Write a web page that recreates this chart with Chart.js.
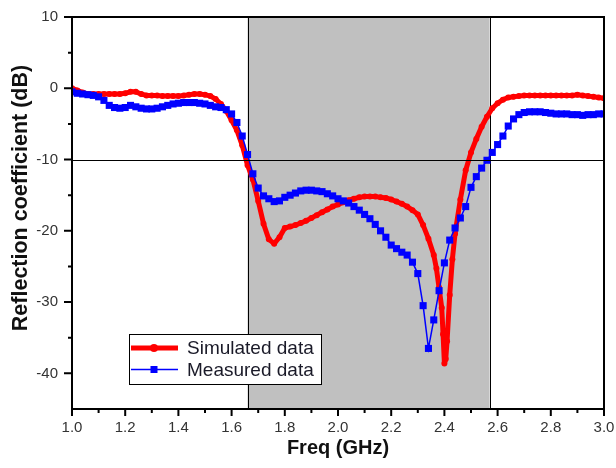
<!DOCTYPE html>
<html>
<head>
<meta charset="utf-8">
<title>Reflection coefficient</title>
<script src="https://cdn.jsdelivr.net/npm/chart.js@4.4.1/dist/chart.umd.min.js"></script>
<style>
  html, body { margin: 0; padding: 0; background: #fff; }
  #chart { display: block; }
</style>
</head>
<body>
<canvas id="chart" width="616" height="468"></canvas>
<script>
// Simulated S11 (dB), denser around the resonance at 2.40 GHz
const freqSim = [
  1.00, 1.02, 1.04, 1.06, 1.08, 1.10, 1.12, 1.14, 1.16, 1.18,
  1.20, 1.22, 1.24, 1.26, 1.28, 1.30, 1.32, 1.34, 1.36, 1.38,
  1.40, 1.42, 1.44, 1.46, 1.48, 1.50, 1.52, 1.54, 1.56, 1.58,
  1.60, 1.62, 1.64, 1.66, 1.68, 1.70, 1.72, 1.74, 1.76, 1.78,
  1.80, 1.82, 1.84, 1.86, 1.88, 1.90, 1.92, 1.94, 1.96, 1.98,
  2.00, 2.02, 2.04, 2.06, 2.08, 2.10, 2.12, 2.14, 2.16, 2.18,
  2.20, 2.22, 2.24, 2.26, 2.28, 2.30, 2.32, 2.34, 2.36, 2.37,
  2.38, 2.39, 2.395, 2.40, 2.405, 2.41, 2.42, 2.43, 2.44, 2.46,
  2.48, 2.50, 2.52, 2.54, 2.56, 2.58, 2.60, 2.62, 2.64, 2.66,
  2.68, 2.70, 2.72, 2.74, 2.76, 2.78, 2.80, 2.82, 2.84, 2.86,
  2.88, 2.90, 2.92, 2.94, 2.96, 2.98, 3.00
];
const simulated = [
  0.0, -0.3, -0.6, -0.8, -0.8, -0.8, -0.8, -0.8, -0.8, -0.8,
  -0.7, -0.5, -0.5, -0.8, -1.0, -1.0, -1.0, -1.1, -1.1, -1.1,
  -1.1, -1.0, -0.9, -0.8, -0.8, -0.9, -1.1, -1.5, -2.2, -3.2,
  -4.5, -5.9, -8.0, -10.8, -12.8, -15.8, -19.0, -21.2, -21.8, -20.9,
  -19.6, -19.4, -19.2, -18.9, -18.6, -18.2, -17.8, -17.4, -17.0, -16.6,
  -16.3, -16.0, -15.7, -15.5, -15.3, -15.2, -15.2, -15.2, -15.3, -15.4,
  -15.6, -15.9, -16.2, -16.6, -17.1, -17.7, -19.2, -21.1, -23.4, -25.3,
  -28.0, -30.8, -34.5, -38.6, -38.0, -35.5, -29.0, -24.0, -20.4, -15.6,
  -11.5, -9.0, -7.1, -5.4, -4.0, -2.8, -2.1, -1.6, -1.3, -1.2,
  -1.1, -1.0, -1.0, -1.0, -1.0, -1.0, -1.0, -1.0, -1.0, -1.0,
  -1.0, -0.9, -1.0, -1.1, -1.2, -1.3, -1.4
];

// Measured S11 (dB)
const freqMeas = [
  1.00, 1.02, 1.04, 1.06, 1.08, 1.10, 1.12, 1.14, 1.16, 1.18,
  1.20, 1.22, 1.24, 1.26, 1.28, 1.30, 1.32, 1.34, 1.36, 1.38,
  1.40, 1.42, 1.44, 1.46, 1.48, 1.50, 1.52, 1.54, 1.56, 1.58,
  1.60, 1.62, 1.64, 1.66, 1.68, 1.70, 1.72, 1.74, 1.76, 1.78,
  1.80, 1.82, 1.84, 1.86, 1.88, 1.90, 1.92, 1.94, 1.96, 1.98,
  2.00, 2.02, 2.04, 2.06, 2.08, 2.10, 2.12, 2.14, 2.16, 2.18,
  2.20, 2.22, 2.24, 2.26, 2.28, 2.30, 2.32, 2.34, 2.36, 2.38,
  2.40, 2.42, 2.44, 2.46, 2.48, 2.50, 2.52, 2.54, 2.56, 2.58,
  2.60, 2.62, 2.64, 2.66, 2.68, 2.70, 2.72, 2.74, 2.76, 2.78,
  2.80, 2.82, 2.84, 2.86, 2.88, 2.90, 2.92, 2.94, 2.96, 2.98,
  3.00
];
const measured = [
  -0.5, -0.7, -0.8, -0.9, -1.0, -1.2, -1.7, -2.4, -2.7, -2.8,
  -2.7, -2.4, -2.6, -2.8, -2.9, -2.9, -2.8, -2.6, -2.4, -2.2,
  -2.1, -2.0, -2.0, -2.0, -2.1, -2.2, -2.4, -2.6, -2.7, -3.0,
  -3.6, -4.8, -6.7, -9.3, -12.0, -14.0, -15.1, -15.5, -15.9, -15.8,
  -15.3, -15.0, -14.7, -14.4, -14.3, -14.3, -14.4, -14.5, -14.8, -15.1,
  -15.5, -15.8, -16.1, -16.6, -17.1, -17.7, -18.3, -19.1, -20.0, -20.9,
  -22.0, -22.5, -23.0, -23.4, -24.4, -26.0, -30.5, -36.5, -32.5, -28.4,
  -24.5, -21.3, -19.6, -18.2, -16.6, -13.9, -12.4, -11.2, -10.1, -9.0,
  -7.9, -6.7, -5.3, -4.3, -3.7, -3.4, -3.3, -3.3, -3.3, -3.4,
  -3.5, -3.6, -3.6, -3.6, -3.7, -3.7, -3.8, -3.7, -3.7, -3.6,
  -3.6
];

const xTicks = [1.0, 1.2, 1.4, 1.6, 1.8, 2.0, 2.2, 2.4, 2.6, 2.8, 3.0];
const xMinorTicks = [1.1, 1.3, 1.5, 1.7, 1.9, 2.1, 2.3, 2.5, 2.7, 2.9];
const yTicks = [-40, -30, -20, -10, 0, 10];
const yMinorTicks = [-35, -25, -15, -5, 5];
const yTitle = 'Reflection coefficient (dB)';

// shaded operating band and -10 dB reference
const bandStart = 1.66;
const bandEnd = 2.57;
const refLevel = -10;

const FONT = '"Liberation Sans", Arial, sans-serif';

function toPoints(xs, ys) {
    return xs.map((x, i) => ({ x: x, y: ys[i] }));
}

const bandPlugin = {
    id: 'band',
    beforeDatasetsDraw(chart) {
        const { ctx, chartArea: a, scales: { x } } = chart;
        const x0 = x.getPixelForValue(bandStart);
        const x1 = x.getPixelForValue(bandEnd);
        ctx.save();
        ctx.fillStyle = '#c0c0c0';
        ctx.fillRect(x0, a.top, x1 - x0, a.bottom - a.top);
        ctx.strokeStyle = '#000';
        ctx.lineWidth = 1;
        ctx.beginPath();
        ctx.moveTo(Math.round(x0) + 0.5, a.top);
        ctx.lineTo(Math.round(x0) + 0.5, a.bottom);
        ctx.moveTo(Math.round(x1) + 0.5, a.top);
        ctx.lineTo(Math.round(x1) + 0.5, a.bottom);
        ctx.stroke();
        ctx.restore();
    }
};

const framePlugin = {
    id: 'frame',
    afterDatasetsDraw(chart) {
        const { ctx, chartArea: a, scales: { x, y } } = chart;
        ctx.save();
        // -10 dB line
        const yr = Math.round(y.getPixelForValue(refLevel)) + 0.5;
        ctx.strokeStyle = '#000';
        ctx.lineWidth = 1;
        ctx.beginPath();
        ctx.moveTo(a.left, yr);
        ctx.lineTo(a.right, yr);
        ctx.stroke();

        // box
        ctx.lineWidth = 2;
        ctx.strokeRect(a.left, a.top, a.right - a.left, a.bottom - a.top);

        // ticks, pointing outward
        ctx.beginPath();
        xTicks.forEach(v => {
            const px = x.getPixelForValue(v);
            ctx.moveTo(px, a.bottom);
            ctx.lineTo(px, a.bottom + 7);
        });
        xMinorTicks.forEach(v => {
            const px = x.getPixelForValue(v);
            ctx.moveTo(px, a.bottom);
            ctx.lineTo(px, a.bottom + 4);
        });
        yTicks.forEach(v => {
            const py = y.getPixelForValue(v);
            ctx.moveTo(a.left, py);
            ctx.lineTo(a.left - 8, py);
        });
        yMinorTicks.forEach(v => {
            const py = y.getPixelForValue(v);
            ctx.moveTo(a.left, py);
            ctx.lineTo(a.left - 4, py);
        });
        ctx.stroke();

        // y title, sits a bit above the middle of the axis
        ctx.translate(21, (a.top + a.bottom) / 2 - 15);
        ctx.rotate(-Math.PI / 2);
        ctx.fillStyle = '#111';
        ctx.font = 'bold 21.5px ' + FONT;
        ctx.textAlign = 'center';
        ctx.textBaseline = 'middle';
        ctx.fillText(yTitle, 0, 0);
        ctx.restore();
    }
};

const legendPlugin = {
    id: 'boxLegend',
    afterDraw(chart) {
        const { ctx, chartArea: a } = chart;
        const left = a.left + 57;
        const top = a.bottom - 75;
        const w = 192, h = 50;
        ctx.save();
        ctx.fillStyle = '#fff';
        ctx.fillRect(left, top, w, h);
        ctx.strokeStyle = '#000';
        ctx.lineWidth = 1;
        ctx.strokeRect(left + 0.5, top + 0.5, w, h);

        chart.data.datasets.forEach((ds, i) => {
            const cy = top + 14 + i * 21.5;
            const x0 = left + 2, x1 = left + 49, xm = left + 25;
            ctx.strokeStyle = ds.borderColor;
            ctx.fillStyle = ds.borderColor;
            ctx.lineWidth = ds.borderWidth;
            ctx.beginPath();
            ctx.moveTo(x0, cy);
            ctx.lineTo(x1, cy);
            ctx.stroke();
            if (ds.pointStyle === 'rect') {
                ctx.fillRect(xm - 3.5, cy - 3.5, 7, 7);
            } else {
                ctx.beginPath();
                ctx.arc(xm, cy, 4, 0, Math.PI * 2);
                ctx.fill();
            }
            ctx.fillStyle = '#1a1a28';
            ctx.font = '19px ' + FONT;
            ctx.textBaseline = 'middle';
            ctx.textAlign = 'left';
            ctx.fillText(ds.label, left + 58, cy + 1);
        });
        ctx.restore();
    }
};

const tickFont = { family: FONT, size: 15 };
const titleFont = { family: FONT, size: 20, weight: 'bold' };

const ctx = document.getElementById('chart').getContext('2d');
new Chart(ctx, {
    type: 'line',
    data: {
        datasets: [{
            label: 'Simulated data',
            data: toPoints(freqSim, simulated),
            borderColor: '#ff0000',
            backgroundColor: '#ff0000',
            borderWidth: 5,
            borderJoinStyle: 'round',
            borderCapStyle: 'round',
            pointStyle: 'circle',
            pointRadius: 3,
            pointBorderWidth: 0,
            order: 2
        }, {
            label: 'Measured data',
            data: toPoints(freqMeas, measured),
            borderColor: '#0000ff',
            backgroundColor: '#0000ff',
            borderWidth: 1.5,
            pointStyle: 'rect',
            pointRadius: 5,
            pointBorderWidth: 0,
            order: 1
        }]
    },
    options: {
        responsive: false,
        animation: false,
        layout: { padding: { top: 17, right: 12, left: 0, bottom: 0 } },
        elements: { line: { tension: 0 } },
        plugins: {
            legend: { display: false },
            tooltip: { enabled: false }
        },
        scales: {
            x: {
                type: 'linear',
                min: 1,
                max: 3,
                afterBuildTicks: s => { s.ticks = xTicks.map(v => ({ value: v })); },
                afterFit: s => {
                    s.height = 59;
                    s.paddingLeft = 0;
                    s.paddingRight = 0;
                },
                grid: { display: false, drawTicks: false },
                border: { display: false },
                ticks: {
                    padding: 10,
                    color: '#333',
                    font: tickFont,
                    maxRotation: 0,
                    callback: v => Number(v).toFixed(1)
                },
                title: {
                    display: true,
                    text: 'Freq (GHz)',
                    color: '#111',
                    font: titleFont,
                    padding: { top: 0, bottom: 8 }
                }
            },
            y: {
                type: 'linear',
                min: -45,
                max: 10,
                afterBuildTicks: s => { s.ticks = yTicks.map(v => ({ value: v })); },
                afterFit: s => {
                    s.width = 72;
                    s.paddingTop = 0;
                    s.paddingBottom = 0;
                },
                grid: { display: false, drawTicks: false },
                border: { display: false },
                ticks: {
                    padding: 14,
                    color: '#333',
                    font: tickFont,
                    callback: v => String(v)
                },
                title: { display: false }
            }
        }
    },
    plugins: [bandPlugin, framePlugin, legendPlugin]
});
</script>
</body>
</html>
